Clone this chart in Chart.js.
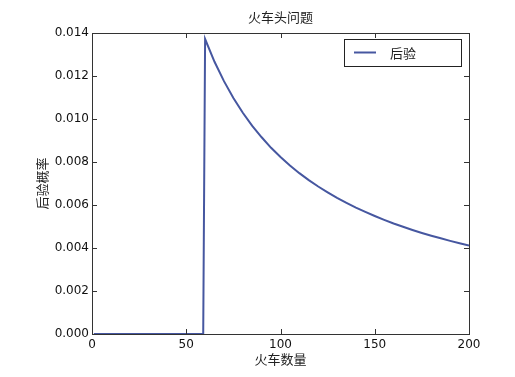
<!DOCTYPE html>
<html lang="zh">
<head>
<meta charset="UTF-8">
<title>火车头问题</title>
<script src="https://cdn.jsdelivr.net/npm/chart.js"></script>
<style>
  body { margin: 0; background: #fff; }
</style>
</head>
<body>
<canvas id="chart" width="515" height="377"></canvas>
<script>
// 数据
const chartTitle = '火车头问题';
const trainCounts = [1, 59, 60, 65, 70, 75, 80, 85, 90, 95, 100, 105, 110, 115, 120, 125, 130,
                     135, 140, 145, 150, 155, 160, 165, 170, 175, 180, 185, 190, 195, 200];
const posterior = [0, 0, 0.01372, 0.01266, 0.01176, 0.01098, 0.01029, 0.00968, 0.00915, 0.00866,
                   0.00823, 0.00784, 0.00748, 0.00716, 0.00686, 0.00659, 0.00633, 0.00610, 0.00588,
                   0.00568, 0.00549, 0.00531, 0.00514, 0.00499, 0.00484, 0.00470, 0.00457, 0.00445,
                   0.00433, 0.00422, 0.00412];
const xTicks = [0, 50, 100, 150, 200];
const yTicks = [0, 0.002, 0.004, 0.006, 0.008, 0.010, 0.012, 0.014];

const lineColor = '#4657a0';
const cjk = '"Noto Sans CJK SC", "Noto Sans", sans-serif';
const numFont = '"DejaVu Sans", sans-serif';

// 标题、边框、内向刻度和图例
const framePlugin = {
    id: 'frame',
    afterDraw(chart) {
        const { ctx, chartArea: a } = chart;
        const xs = chart.scales.x, ys = chart.scales.y;
        ctx.save();

        ctx.fillStyle = '#222';
        ctx.font = '13px ' + cjk;
        ctx.textAlign = 'center';
        ctx.textBaseline = 'middle';
        ctx.fillText(chartTitle, (a.left + a.right) / 2, 17);

        ctx.strokeStyle = '#333';
        ctx.lineWidth = 1;
        ctx.strokeRect(a.left + 0.5, a.top + 0.5, a.right - a.left, a.bottom - a.top);
        ctx.beginPath();
        xTicks.forEach(v => {
            const px = Math.round(xs.getPixelForValue(v)) + 0.5;
            ctx.moveTo(px, a.bottom); ctx.lineTo(px, a.bottom - 5);
            ctx.moveTo(px, a.top); ctx.lineTo(px, a.top + 5);
        });
        yTicks.forEach(v => {
            const py = Math.round(ys.getPixelForValue(v)) + 0.5;
            ctx.moveTo(a.left, py); ctx.lineTo(a.left + 5, py);
            ctx.moveTo(a.right, py); ctx.lineTo(a.right - 5, py);
        });
        ctx.stroke();

        // 图例
        const bx = a.right - 125, by = a.top + 6, bw = 117, bh = 27;
        ctx.strokeStyle = '#222';
        ctx.strokeRect(bx + 0.5, by + 0.5, bw, bh);
        ctx.strokeStyle = lineColor;
        ctx.lineWidth = 2;
        ctx.beginPath();
        ctx.moveTo(bx + 10, by + 13.5); ctx.lineTo(bx + 32, by + 13.5);
        ctx.stroke();
        ctx.textAlign = 'left';
        ctx.fillText(chart.data.datasets[0].label, bx + 46, by + 14);
        ctx.restore();
    }
};

new Chart(document.getElementById('chart'), {
    type: 'line',
    data: {
        datasets: [{
            label: '后验',
            data: trainCounts.map((x, i) => ({ x: x, y: posterior[i] })),
            borderColor: lineColor,
            borderWidth: 2,
            pointRadius: 0,
            tension: 0
        }]
    },
    options: {
        responsive: false,
        animation: false,
        layout: { padding: { left: 0, top: 33, right: 46, bottom: 0 } },
        plugins: {
            legend: { display: false },
            tooltip: { enabled: false },
            title: { display: false }
        },
        scales: {
            x: {
                type: 'linear',
                min: 0, max: 200,
                afterBuildTicks: s => { s.ticks = xTicks.map(v => ({ value: v })); },
                afterFit: s => { s.height = 43; },
                grid: { display: false, drawTicks: false },
                border: { display: false },
                ticks: {
                    padding: 4,
                    color: '#111',
                    font: { family: numFont, size: 12 },
                    maxRotation: 0
                },
                title: {
                    display: true,
                    text: '火车数量',
                    color: '#222',
                    font: { family: cjk, size: 13 },
                    padding: { top: 0, bottom: 10 }
                }
            },
            y: {
                min: 0, max: 0.014,
                afterBuildTicks: s => { s.ticks = yTicks.map(v => ({ value: v })); },
                afterFit: s => { s.width = 92; },
                grid: { display: false, drawTicks: false },
                border: { display: false },
                ticks: {
                    padding: 3,
                    color: '#111',
                    font: { family: numFont, size: 12 },
                    callback: v => v.toFixed(3)
                },
                title: {
                    display: true,
                    text: '后验概率',
                    color: '#222',
                    font: { family: cjk, size: 13 },
                    padding: { top: 34, bottom: 0 }
                }
            }
        }
    },
    plugins: [framePlugin]
});
</script>
</body>
</html>
